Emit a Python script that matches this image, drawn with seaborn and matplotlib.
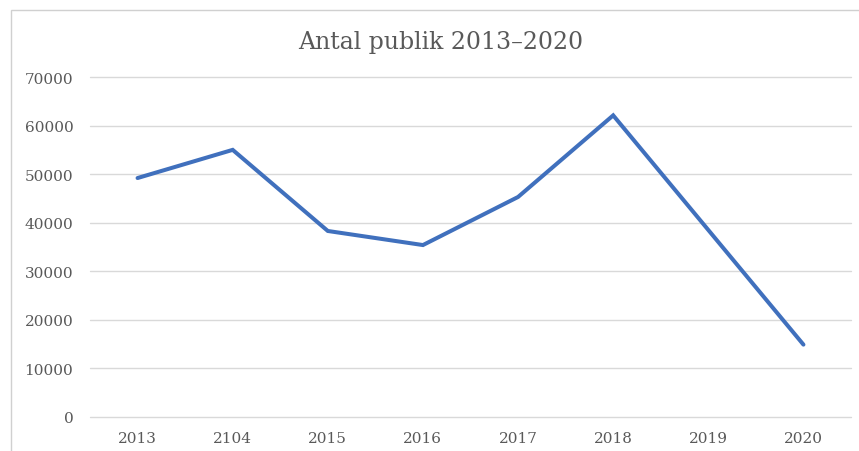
import matplotlib
matplotlib.use("Agg")
import matplotlib.pyplot as plt
import seaborn as sns
import pandas as pd
from matplotlib.patches import Rectangle

# Data
YEARS = ['2013', '2104', '2015', '2016', '2017', '2018', '2019', '2020']
PUBLIK = [49200, 55000, 38300, 35400, 45300, 62100, 38500, 14900]
Y_TICKS = [0, 10000, 20000, 30000, 40000, 50000, 60000, 70000]

LINE_COLOUR = '#4070BD'
TEXT_COLOUR = '#595959'
GRID_COLOUR = '#D9D9D9'

sns.set_theme(style='white')
plt.rcParams['font.family'] = ['DejaVu Serif']

df = pd.DataFrame({'year': YEARS, 'publik': PUBLIK})

W, H = 859, 452
fig = plt.figure(figsize=(W / 100, H / 100), dpi=100)
fig.patch.set_facecolor('white')

# light chart border like the spreadsheet chart area
fig.patches.append(Rectangle((11 / W, -0.1), 1.2, 1 - 11 / H + 0.1, transform=fig.transFigure,
                             fill=False, edgecolor='#D0D0D0', linewidth=1.0))

ax = fig.add_axes([90 / W, 1 - 418 / H, (851 - 90) / W, (418 - 78) / H])
sns.lineplot(data=df, x='year', y='publik', sort=False, color=LINE_COLOUR, linewidth=2.9,
             ax=ax, solid_capstyle='round', solid_joinstyle='miter')

ax.set_xlim(-0.5, len(YEARS) - 0.5)
ax.set_ylim(0, 70000)
ax.set_yticks(Y_TICKS)
ax.set_yticklabels([str(v) for v in Y_TICKS])
ax.yaxis.grid(True, color=GRID_COLOUR, linewidth=1.0)
ax.xaxis.grid(False)
ax.set_axisbelow(True)
for gl in ax.get_ygridlines():
    gl.set_clip_on(False)
for side in ['top', 'right', 'left', 'bottom']:
    ax.spines[side].set_visible(False)

ax.tick_params(axis='both', length=0, labelsize=11, colors=TEXT_COLOUR)
ax.tick_params(axis='y', pad=12)
ax.tick_params(axis='x', pad=10)
ax.set_xlabel('')
ax.set_ylabel('')

fig.text(441 / W, 1 - 42 / H, 'Antal publik 2013–2020', ha='center', va='center',
         fontsize=17, color=TEXT_COLOUR)

fig.savefig('out.png', dpi=100)
